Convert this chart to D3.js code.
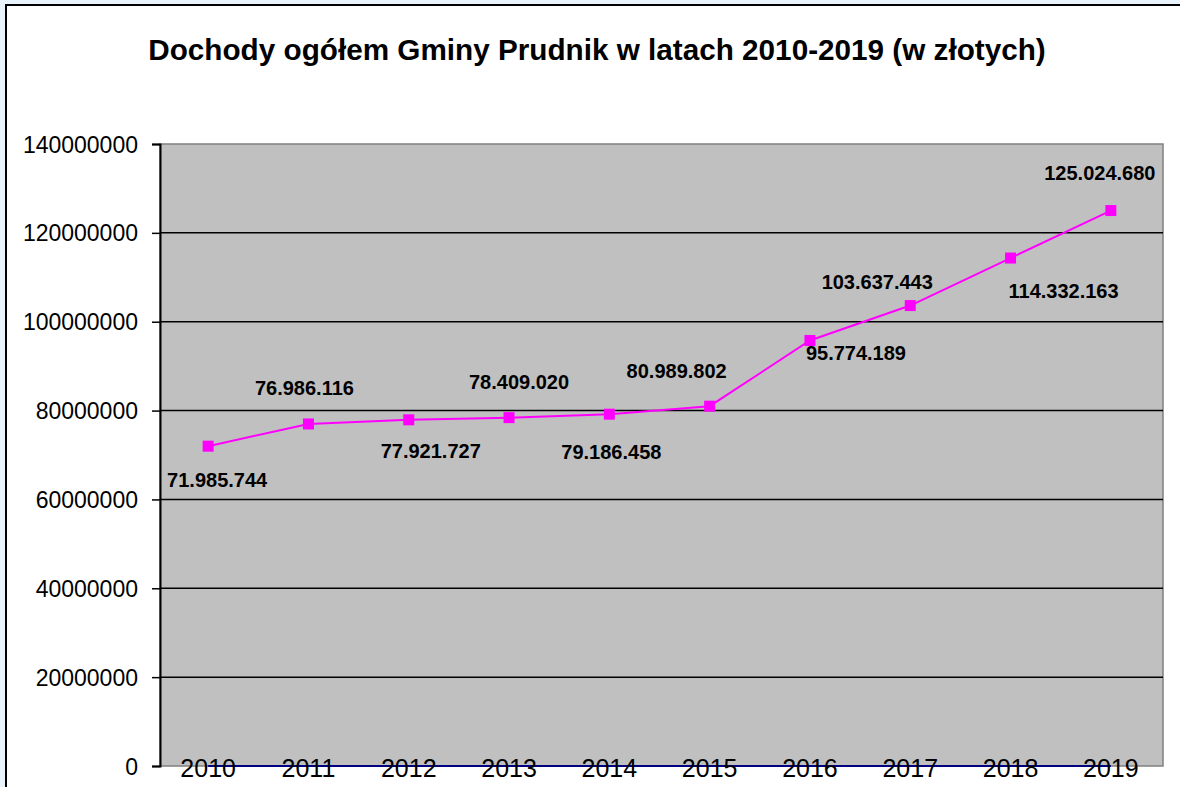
<!DOCTYPE html>
<meta charset="utf-8">
<script src="https://d3js.org/d3.v7.min.js"></script>
<style>
    html, body {
        margin: 0;
        padding: 0;
        background: #e9f3fc;
        overflow: hidden;
    }
    text {
        font-family: "Liberation Sans", Arial, sans-serif;
    }
    .title {
        font-size: 29.7px;
        font-weight: bold;
        text-anchor: middle;
    }
    .ylab {
        font-size: 23px;
        text-anchor: end;
    }
    .xlab {
        font-size: 25px;
        text-anchor: middle;
    }
    .vlab {
        font-size: 20px;
        font-weight: bold;
        text-anchor: middle;
    }
</style>
<div id="chart"></div>
<script>
    // data
    const years = ["2010", "2011", "2012", "2013", "2014", "2015", "2016", "2017", "2018", "2019"];
    const income = [71985744, 76986116, 77921727, 78409020, 79186458, 80989802, 95774189, 103637443, 114332163, 125024680];
    const zeroSeries = [0, 0, 0, 0, 0, 0, 0, 0, 0, 0];
    const yTicks = [0, 20000000, 40000000, 60000000, 80000000, 100000000, 120000000, 140000000];
    const valueLabels = ["71.985.744", "76.986.116", "77.921.727", "78.409.020", "79.186.458",
        "80.989.802", "95.774.189", "103.637.443", "114.332.163", "125.024.680"];

    // where each data label sits relative to its point (dragged by hand in the original)
    const labelOffsets = [[9, 41], [-4, -29], [22, 38], [10, -29], [2, 45],
        [-33, -28], [46, 20], [-33, -17], [53, 40], [-11, -31]];

    const W = 1180, H = 787;
    const plot = {left: 160, top: 144, right: 1163, bottom: 766};

    const svg = d3.select("#chart")
        .append("svg")
        .attr("width", W)
        .attr("height", H);

    // chart frame (runs past the right and bottom edge)
    svg.append("rect")
        .attr("x", 6)
        .attr("y", 5)
        .attr("width", W + 20)
        .attr("height", H + 20)
        .attr("fill", "white")
        .attr("stroke", "black")
        .attr("stroke-width", 2);

    svg.append("text")
        .attr("class", "title")
        .attr("x", 597)
        .attr("y", 60)
        .text("Dochody ogółem Gminy Prudnik w latach 2010-2019 (w złotych)");

    let x = d3.scaleBand()
        .domain(years)
        .range([plot.left, plot.right]);

    let y = d3.scaleLinear()
        .domain([0, 140000000])
        .range([plot.bottom, plot.top]);

    let cx = function (d, i) { return x(years[i]) + x.bandwidth() / 2 - 2; };

    // plot area
    svg.append("rect")
        .attr("x", plot.left)
        .attr("y", plot.top)
        .attr("width", plot.right - plot.left)
        .attr("height", plot.bottom - plot.top)
        .attr("fill", "#c0c0c0")
        .attr("stroke", "#808080")
        .attr("stroke-width", 1.5);

    // gridlines
    svg.selectAll("grid")
        .data(yTicks.filter(function (d) { return d > 0 && d < 140000000; }))
        .enter()
        .append("line")
        .attr("x1", plot.left)
        .attr("x2", plot.right)
        .attr("y1", function (d) { return y(d); })
        .attr("y2", function (d) { return y(d); })
        .attr("stroke", "black")
        .attr("stroke-width", 1.5);

    // Y axis
    let yAxis = svg.append("g")
        .attr("transform", "translate(" + plot.left + ",0)")
        .call(d3.axisLeft(y).tickValues(yTicks).tickSize(8).tickPadding(14).tickFormat(d3.format("d")));
    yAxis.select(".domain").attr("stroke", "black").attr("stroke-width", 2);
    yAxis.selectAll(".tick line").attr("stroke", "black").attr("stroke-width", 1.5);
    yAxis.selectAll(".tick text")
        .attr("class", "ylab")
        .attr("fill", "black")
        .attr("font-size", null)
        .attr("font-family", null)
        .attr("dy", "0.35em");

    // zero series along the bottom
    svg.append("path")
        .datum(zeroSeries)
        .attr("fill", "none")
        .attr("stroke", "#000080")
        .attr("stroke-width", 2)
        .attr("d", d3.line().x(cx).y(function (d) { return y(d); }));

    // X labels
    svg.selectAll("xlab")
        .data(years)
        .enter()
        .append("text")
        .attr("class", "xlab")
        .attr("x", function (d) { return x(d) + x.bandwidth() / 2 - 2; })
        .attr("y", 777)
        .text(function (d) { return d; });

    // income line
    svg.append("path")
        .datum(income)
        .attr("fill", "none")
        .attr("stroke", "#ff00ff")
        .attr("stroke-width", 2)
        .attr("d", d3.line().x(cx).y(function (d) { return y(d); }));

    svg.selectAll("marker")
        .data(income)
        .enter()
        .append("rect")
        .attr("x", function (d, i) { return cx(d, i) - 5.5; })
        .attr("y", function (d) { return y(d) - 5.5; })
        .attr("width", 11)
        .attr("height", 11)
        .attr("fill", "#ff00ff");

    svg.selectAll("vlab")
        .data(income)
        .enter()
        .append("text")
        .attr("class", "vlab")
        .attr("x", function (d, i) { return cx(d, i) + labelOffsets[i][0]; })
        .attr("y", function (d, i) { return y(d) + labelOffsets[i][1]; })
        .text(function (d, i) { return valueLabels[i]; });
</script>
